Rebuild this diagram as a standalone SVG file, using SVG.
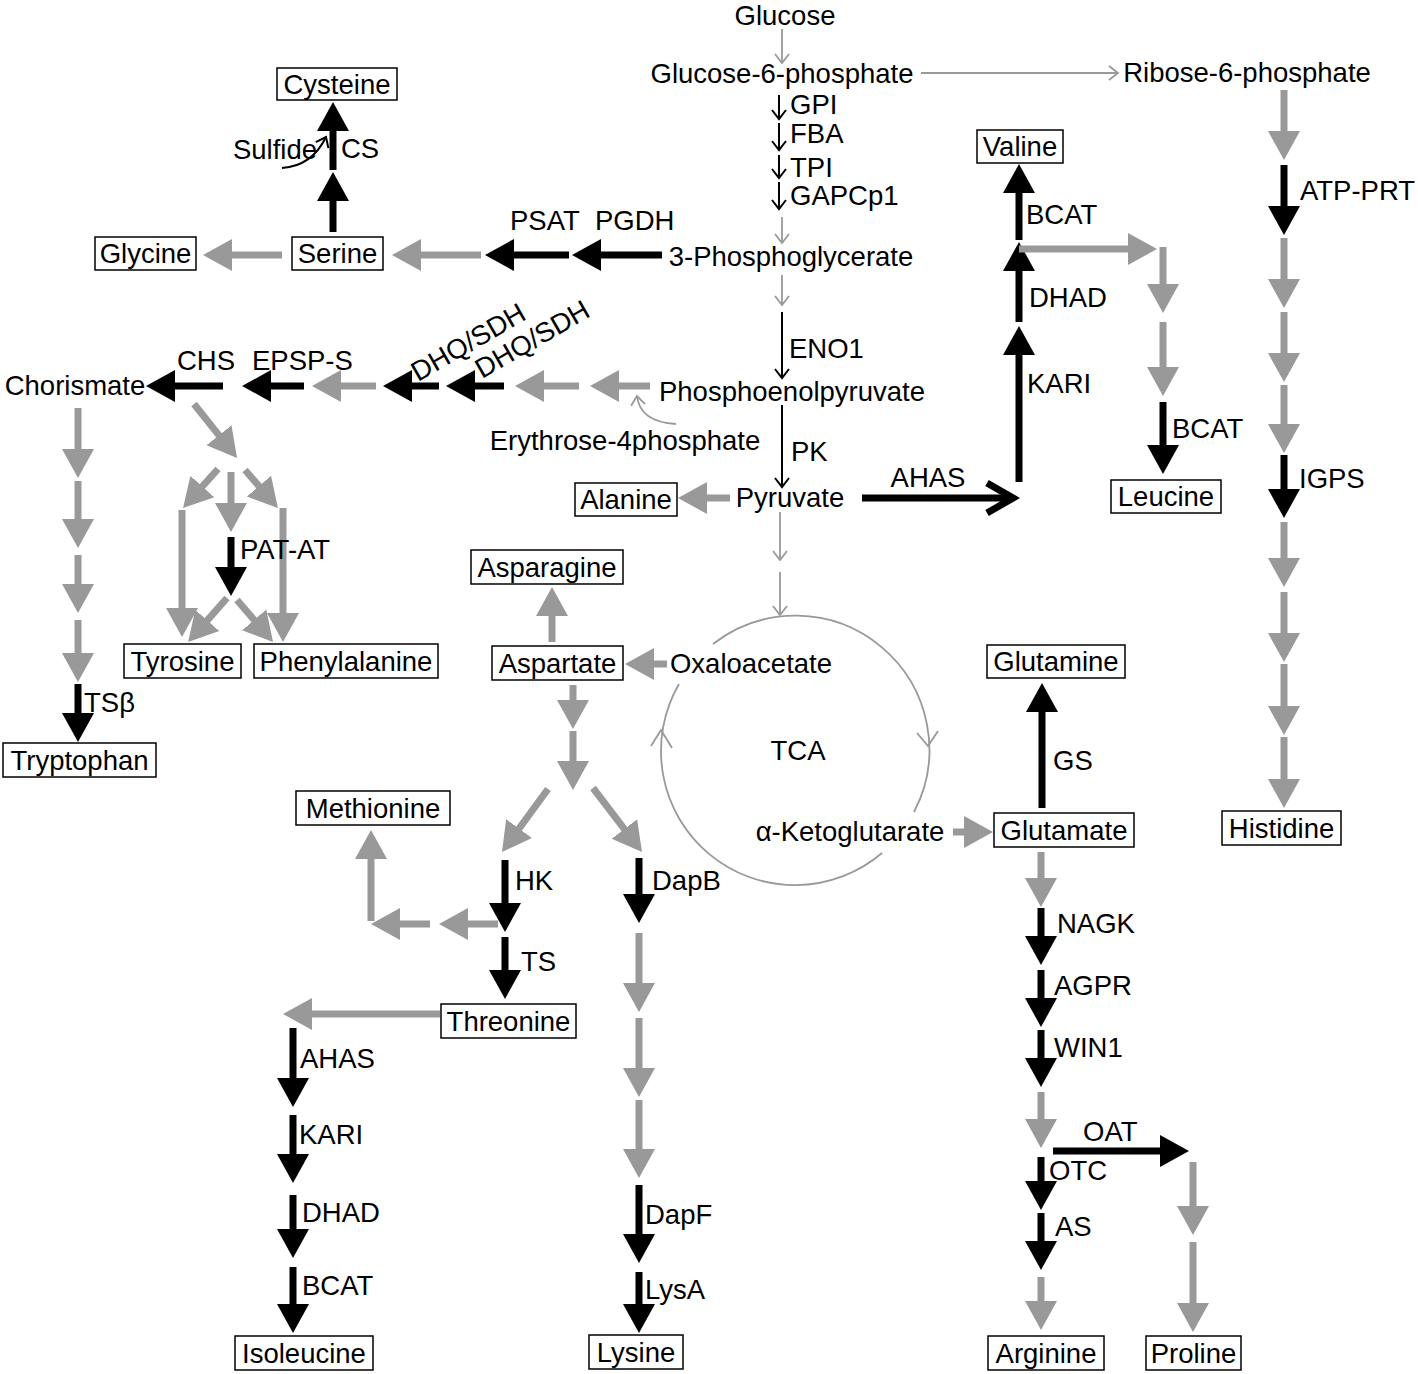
<svg xmlns="http://www.w3.org/2000/svg" width="1418" height="1374" viewBox="0 0 1418 1374">
<style>
.t{font-family:"Liberation Sans",Arial,sans-serif;font-size:27.5px;fill:#000}
.m{text-anchor:middle}
.bx{fill:#fff;stroke:#000;stroke-width:1.5}
.fb{stroke:#000;stroke-width:7;fill:none;marker-end:url(#hb)}
.fg{stroke:#999;stroke-width:7;fill:none;marker-end:url(#hg)}
.tb{stroke:#000;stroke-width:2;fill:none;marker-end:url(#cb)}
.tg{stroke:#999;stroke-width:1.8;fill:none;marker-end:url(#cg)}
.cir{stroke:#999;stroke-width:1.8;fill:none}
</style>
<defs>
<marker id="hb" markerUnits="userSpaceOnUse" markerWidth="30" markerHeight="34" viewBox="0 0 30 34" refX="1" refY="17" orient="auto"><path d="M0,1 L29,17 L0,33 z" fill="#000"/></marker>
<marker id="hg" markerUnits="userSpaceOnUse" markerWidth="30" markerHeight="34" viewBox="0 0 30 34" refX="1" refY="17" orient="auto"><path d="M0,1 L29,17 L0,33 z" fill="#999"/></marker>
<marker id="cb" markerUnits="userSpaceOnUse" markerWidth="14" markerHeight="18" viewBox="0 0 14 18" refX="11" refY="9" orient="auto"><path d="M2,2 L11,9 L2,16" fill="none" stroke="#000" stroke-width="2"/></marker>
<marker id="cg" markerUnits="userSpaceOnUse" markerWidth="14" markerHeight="18" viewBox="0 0 14 18" refX="11" refY="9" orient="auto"><path d="M2,2 L11,9 L2,16" fill="none" stroke="#999" stroke-width="1.8"/></marker>
</defs>
<rect width="1418" height="1374" fill="#fff"/>

<g id="connectors">
<path class="tg" d="M782,29 L782,63"/>
<path class="tg" d="M921,73 L1118,73"/>
<path class="tb" d="M779,95 L779,119"/>
<path class="tb" d="M779,123 L779,150"/>
<path class="tb" d="M779,155 L779,178"/>
<path class="tb" d="M779,182 L779,209"/>
<path class="tg" d="M782,217 L782,243"/>
<path class="tg" d="M782,275 L782,305"/>
<path class="tb" d="M782,312 L782,378"/>
<path class="tb" d="M782,405 L782,487"/>
<path class="tg" d="M780,512 L780,560"/>
<path class="tg" d="M780,572 L780,615"/>
<path class="tb" d="M282,168 Q312,166 326,137"/>
<path class="tg" d="M676,424 Q640,422 637,396"/>
<path class="cir" d="M713,644 A134,134 0 0 1 914,812"/>
<path class="cir" d="M882,853 A134,134 0 0 1 679,684"/>
<polyline class="cir" points="917,733 928,746 938,731"/>
<polyline class="cir" points="651,746 661,730 672,748"/>
<line x1="862" y1="498" x2="1012" y2="498" stroke="#000" stroke-width="7"/>
<polyline points="987,483 1013,498 987,513" fill="none" stroke="#000" stroke-width="7"/>
<path class="fb" d="M333,232 L333,200"/>
<path class="fb" d="M333,170 L333,130"/>
<path class="fg" d="M282,255 L231,255"/>
<path class="fg" d="M481,255 L420,255"/>
<path class="fb" d="M569,255 L513,255"/>
<path class="fb" d="M662,255 L600,255"/>
<path class="fb" d="M223,386 L174,386"/>
<path class="fb" d="M304,386 L270,386"/>
<path class="fg" d="M376,386 L340,386"/>
<path class="fb" d="M439,386 L411,386"/>
<path class="fb" d="M504,386 L474,386"/>
<path class="fg" d="M579,386 L543,386"/>
<path class="fg" d="M650,386 L618,386"/>
<path class="fg" d="M78,408 L78,450"/>
<path class="fg" d="M78,481 L78,520"/>
<path class="fg" d="M78,555 L78,585"/>
<path class="fg" d="M78,620 L78,654"/>
<path class="fb" d="M78,684 L78,714"/>
<path class="fg" d="M194,404 L219.6,436.1"/>
<path class="fg" d="M218,469 L201.7,487.2"/>
<path class="fg" d="M231,472 L231,504"/>
<path class="fg" d="M245,470 L259.6,486.9"/>
<path class="fg" d="M182,510 L182,609"/>
<path class="fg" d="M283,508 L283,614"/>
<path class="fb" d="M231,537 L231,568"/>
<path class="fg" d="M227,598 L206.6,621.1"/>
<path class="fg" d="M237,600 L254.8,620.7"/>
<path class="fg" d="M730,498 L706,498"/>
<path class="fb" d="M1019,482 L1019,354"/>
<path class="fb" d="M1019,322 L1019,270"/>
<path class="fb" d="M1019,240 L1019,192"/>
<path class="fg" d="M1019,249 L1129,249"/>
<path class="fg" d="M1163,247 L1163,285"/>
<path class="fg" d="M1163,322 L1163,368"/>
<path class="fb" d="M1163,402 L1163,446"/>
<path class="fg" d="M1284,90 L1284,132"/>
<path class="fb" d="M1284,165 L1284,207"/>
<path class="fg" d="M1284,238 L1284,280"/>
<path class="fg" d="M1284,312 L1284,354"/>
<path class="fg" d="M1284,385 L1284,425"/>
<path class="fb" d="M1284,455 L1284,490"/>
<path class="fg" d="M1284,522 L1284,559"/>
<path class="fg" d="M1284,592 L1284,634"/>
<path class="fg" d="M1284,664 L1284,707"/>
<path class="fg" d="M1284,737 L1284,780"/>
<path class="fg" d="M667,664 L653,664"/>
<path class="fg" d="M552,642 L552,615"/>
<path class="fg" d="M573,685 L573,701"/>
<path class="fg" d="M573,731 L573,762"/>
<path class="fg" d="M548,789 L518.5,829.4"/>
<path class="fg" d="M593,788 L625,829.8"/>
<path class="fb" d="M505,860 L505,904"/>
<path class="fb" d="M505,937 L505,971"/>
<path class="fg" d="M498,924 L467,924"/>
<path class="fg" d="M430,924 L399,924"/>
<path class="fg" d="M371,921 L371,858"/>
<path class="fg" d="M440,1014 L311,1014"/>
<path class="fb" d="M639,858 L639,895"/>
<path class="fg" d="M639,933 L639,984"/>
<path class="fg" d="M639,1018 L639,1069"/>
<path class="fg" d="M639,1100 L639,1150"/>
<path class="fb" d="M639,1185 L639,1235"/>
<path class="fb" d="M639,1272 L639,1305"/>
<path class="fb" d="M293,1028 L293,1079"/>
<path class="fb" d="M293,1115 L293,1155"/>
<path class="fb" d="M293,1195 L293,1230"/>
<path class="fb" d="M293,1267 L293,1305"/>
<path class="fg" d="M953,832 L965,832"/>
<path class="fb" d="M1042,808 L1042,711"/>
<path class="fg" d="M1041,852 L1041,879"/>
<path class="fb" d="M1041,908 L1041,937"/>
<path class="fb" d="M1041,970 L1041,999"/>
<path class="fb" d="M1041,1030 L1041,1059"/>
<path class="fg" d="M1041,1092 L1041,1120"/>
<path class="fb" d="M1041,1157 L1041,1182"/>
<path class="fb" d="M1041,1213 L1041,1242"/>
<path class="fg" d="M1041,1277 L1041,1302"/>
<path class="fb" d="M1053,1151 L1161,1151"/>
<path class="fg" d="M1193,1162 L1193,1207"/>
<path class="fg" d="M1193,1242 L1193,1304"/>
</g>

<g id="labels">
<text class="t" x="790" y="114">GPI</text>
<text class="t" x="790" y="143">FBA</text>
<text class="t" x="790" y="177">TPI</text>
<text class="t" x="790" y="205">GAPCp1</text>
<text class="t" x="789" y="358">ENO1</text>
<text class="t" x="791" y="461">PK</text>
<text class="t" x="510" y="230">PSAT</text>
<text class="t" x="595" y="230">PGDH</text>
<text class="t" x="341" y="158">CS</text>
<text class="t" x="177" y="370">CHS</text>
<text class="t" x="252" y="370">EPSP-S</text>
<text class="t" transform="translate(418,382) rotate(-30)">DHQ/SDH</text>
<text class="t" transform="translate(482,379) rotate(-30)">DHQ/SDH</text>
<text class="t" x="240" y="559">PAT-AT</text>
<text class="t" x="84" y="712">TSβ</text>
<text class="t m" x="928" y="487">AHAS</text>
<text class="t" x="1026" y="224">BCAT</text>
<text class="t" x="1029" y="307">DHAD</text>
<text class="t" x="1027" y="393">KARI</text>
<text class="t" x="1172" y="438">BCAT</text>
<text class="t" x="1300" y="200">ATP-PRT</text>
<text class="t" x="1299" y="488">IGPS</text>
<text class="t" x="1053" y="770">GS</text>
<text class="t" x="515" y="890">HK</text>
<text class="t" x="652" y="890">DapB</text>
<text class="t" x="521" y="971">TS</text>
<text class="t" x="1057" y="933">NAGK</text>
<text class="t" x="1054" y="995">AGPR</text>
<text class="t" x="1054" y="1057">WIN1</text>
<text class="t" x="1083" y="1141">OAT</text>
<text class="t" x="1049" y="1180">OTC</text>
<text class="t" x="1055" y="1236">AS</text>
<text class="t" x="300" y="1068">AHAS</text>
<text class="t" x="299" y="1144">KARI</text>
<text class="t" x="302" y="1222">DHAD</text>
<text class="t" x="302" y="1295">BCAT</text>
<text class="t" x="645" y="1224">DapF</text>
<text class="t" x="645" y="1299">LysA</text>
</g>

<g id="glucose"><text class="t m" x="785" y="25">Glucose</text></g>
<g id="g6p"><text class="t m" x="782" y="83">Glucose-6-phosphate</text></g>
<g id="r6p"><text class="t m" x="1247" y="82">Ribose-6-phosphate</text></g>
<g id="pga"><text class="t m" x="791" y="266">3-Phosphoglycerate</text></g>
<g id="pep"><text class="t m" x="792" y="401">Phosphoenolpyruvate</text></g>
<g id="e4p"><text class="t m" x="625" y="450">Erythrose-4phosphate</text></g>
<g id="pyruvate"><text class="t m" x="790" y="507">Pyruvate</text></g>
<g id="oaa"><text class="t m" x="751" y="673">Oxaloacetate</text></g>
<g id="akg"><text class="t m" x="850" y="841">α-Ketoglutarate</text></g>
<g id="tca"><text class="t m" x="798" y="760">TCA</text></g>
<g id="chorismate"><text class="t m" x="75" y="395">Chorismate</text></g>
<g id="sulfide"><text class="t m" x="275" y="159">Sulfide</text></g>

<g id="cysteine"><rect class="bx" x="277" y="68" width="120" height="32"/><text class="t m" x="337" y="94">Cysteine</text></g>
<g id="glycine"><rect class="bx" x="95" y="237" width="101" height="33"/><text class="t m" x="145.5" y="263">Glycine</text></g>
<g id="serine"><rect class="bx" x="292" y="237" width="91" height="33"/><text class="t m" x="337.5" y="263">Serine</text></g>
<g id="valine"><rect class="bx" x="977" y="130" width="86" height="33"/><text class="t m" x="1020" y="156">Valine</text></g>
<g id="alanine"><rect class="bx" x="575" y="483" width="102" height="33"/><text class="t m" x="626" y="509">Alanine</text></g>
<g id="leucine"><rect class="bx" x="1111" y="480" width="110" height="33"/><text class="t m" x="1166" y="506">Leucine</text></g>
<g id="asparagine"><rect class="bx" x="471" y="550" width="152" height="34"/><text class="t m" x="547" y="577">Asparagine</text></g>
<g id="tyrosine"><rect class="bx" x="124" y="644" width="117" height="34"/><text class="t m" x="182.5" y="671">Tyrosine</text></g>
<g id="phenylalanine"><rect class="bx" x="254" y="644" width="184" height="34"/><text class="t m" x="346" y="671">Phenylalanine</text></g>
<g id="aspartate"><rect class="bx" x="492" y="646" width="131" height="34"/><text class="t m" x="557.5" y="673">Aspartate</text></g>
<g id="glutamine"><rect class="bx" x="987" y="645" width="138" height="33"/><text class="t m" x="1056" y="671">Glutamine</text></g>
<g id="tryptophan"><rect class="bx" x="3" y="743" width="153" height="34"/><text class="t m" x="79.5" y="770">Tryptophan</text></g>
<g id="methionine"><rect class="bx" x="296" y="791" width="154" height="34"/><text class="t m" x="373" y="818">Methionine</text></g>
<g id="glutamate"><rect class="bx" x="994" y="813" width="140" height="34"/><text class="t m" x="1064" y="840">Glutamate</text></g>
<g id="histidine"><rect class="bx" x="1222" y="811" width="119" height="34"/><text class="t m" x="1281.5" y="838">Histidine</text></g>
<g id="threonine"><rect class="bx" x="441" y="1004" width="135" height="34"/><text class="t m" x="508.5" y="1031">Threonine</text></g>
<g id="isoleucine"><rect class="bx" x="235" y="1336" width="138" height="34"/><text class="t m" x="304" y="1363">Isoleucine</text></g>
<g id="lysine"><rect class="bx" x="589" y="1335" width="94" height="34"/><text class="t m" x="636" y="1362">Lysine</text></g>
<g id="arginine"><rect class="bx" x="988" y="1336" width="116" height="34"/><text class="t m" x="1046" y="1363">Arginine</text></g>
<g id="proline"><rect class="bx" x="1146" y="1336" width="95" height="34"/><text class="t m" x="1193.5" y="1363">Proline</text></g>
</svg>
